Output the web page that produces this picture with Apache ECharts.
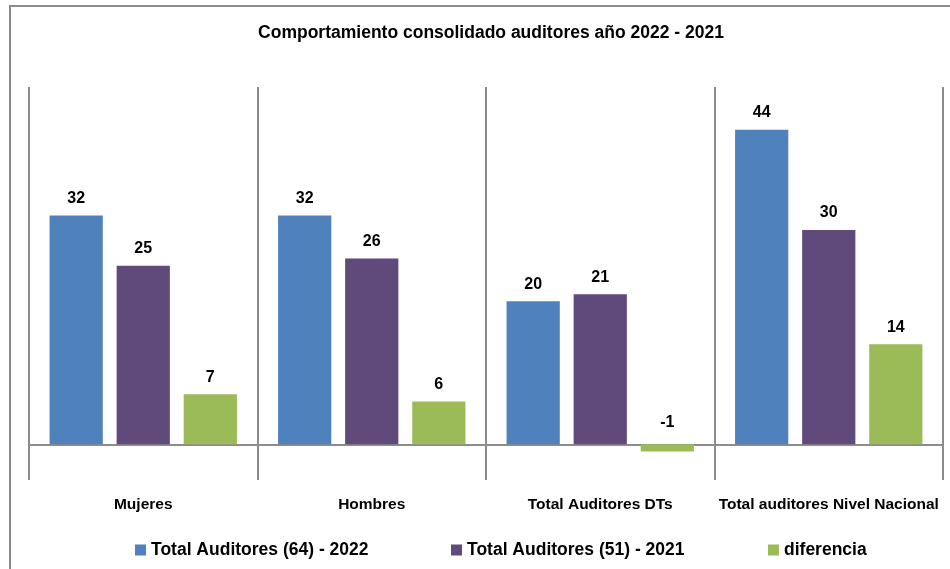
<!DOCTYPE html>
<html>
<head>
<meta charset="utf-8">
<script src="https://cdn.jsdelivr.net/npm/echarts@6/dist/echarts.min.js"></script>
<style>
  html, body { margin: 0; padding: 0; background: #ffffff; }
  #chart { width: 950px; height: 569px; }
</style>
</head>
<body>
<div id="chart"></div>
<script>
// Auditor totals per group, 2022 vs 2021
const categories = ['Mujeres', 'Hombres', 'Total Auditores DTs', 'Total auditores Nivel Nacional'];
const seriesNames = ['Total Auditores (64) - 2022', 'Total Auditores (51) - 2021', 'diferencia'];
const auditores2022 = [32, 32, 20, 44];
const auditores2021 = [25, 26, 21, 30];
const diferencia = [7, 6, -1, 14];

const colors = ['#4F81BD', '#604A7B', '#9BBB59'];
const FONT = 'Liberation Sans, Arial, sans-serif';
const gridLine = '#8C8C8C';

function toData(values) {
  // negative values keep their label above the zero line, a bit higher up
  return values.map(v => v < 0 ? { value: v, label: { distance: 14 } } : v);
}

const labelStyle = {
  show: true,
  position: 'top',
  distance: 9,
  color: '#000',
  fontFamily: FONT,
  fontWeight: 'bold',
  fontSize: 16
};

const chart = echarts.init(document.getElementById('chart'), null, { renderer: 'canvas' });

const legendTop = 541;
const legendLefts = [135, 451, 768];

chart.setOption({
  animation: false,
  backgroundColor: '#ffffff',
  title: {
    text: 'Comportamiento consolidado auditores año 2022 - 2021',
    left: 486,
    top: 19,
    textAlign: 'center',
    textStyle: { fontFamily: FONT, fontWeight: 'bold', fontSize: 17.5, color: '#000' }
  },
  legend: seriesNames.map((name, i) => ({
    data: [name],
    left: legendLefts[i],
    top: legendTop,
    padding: 0,
    itemWidth: 11,
    itemHeight: 11,
    itemGap: 0,
    icon: 'rect',
    textStyle: { fontFamily: FONT, fontWeight: 'bold', fontSize: 17.5, color: '#000' }
  })),
  grid: { left: 29, right: 7, top: 87, bottom: 89, containLabel: false },
  xAxis: {
    type: 'category',
    data: categories,
    axisLine: { show: true, onZero: true, lineStyle: { color: gridLine, width: 2 } },
    axisTick: { show: false },
    axisLabel: {
      margin: 17,
      color: '#000',
      fontFamily: FONT,
      fontWeight: 'bold',
      fontSize: 15.5,
      interval: 0
    },
    splitLine: { show: true, lineStyle: { color: gridLine, width: 2 } }
  },
  yAxis: {
    type: 'value',
    min: -5,
    max: 50,
    show: false,
    splitLine: { show: false }
  },
  series: [
    { name: seriesNames[0], type: 'bar', data: toData(auditores2022), itemStyle: { color: colors[0] }, label: labelStyle, barGap: '26%', barCategoryGap: '18%' },
    { name: seriesNames[1], type: 'bar', data: toData(auditores2021), itemStyle: { color: colors[1] }, label: labelStyle, barGap: '26%', barCategoryGap: '18%' },
    { name: seriesNames[2], type: 'bar', data: toData(diferencia), itemStyle: { color: colors[2] }, label: labelStyle, barGap: '26%', barCategoryGap: '18%' }
  ],
  graphic: [{
    type: 'polyline',
    shape: { points: [[10, 569], [10, 6], [950, 6]] },
    style: { stroke: '#8C8C8C', lineWidth: 2, fill: null },
    silent: true
  }]
});
</script>
</body>
</html>
